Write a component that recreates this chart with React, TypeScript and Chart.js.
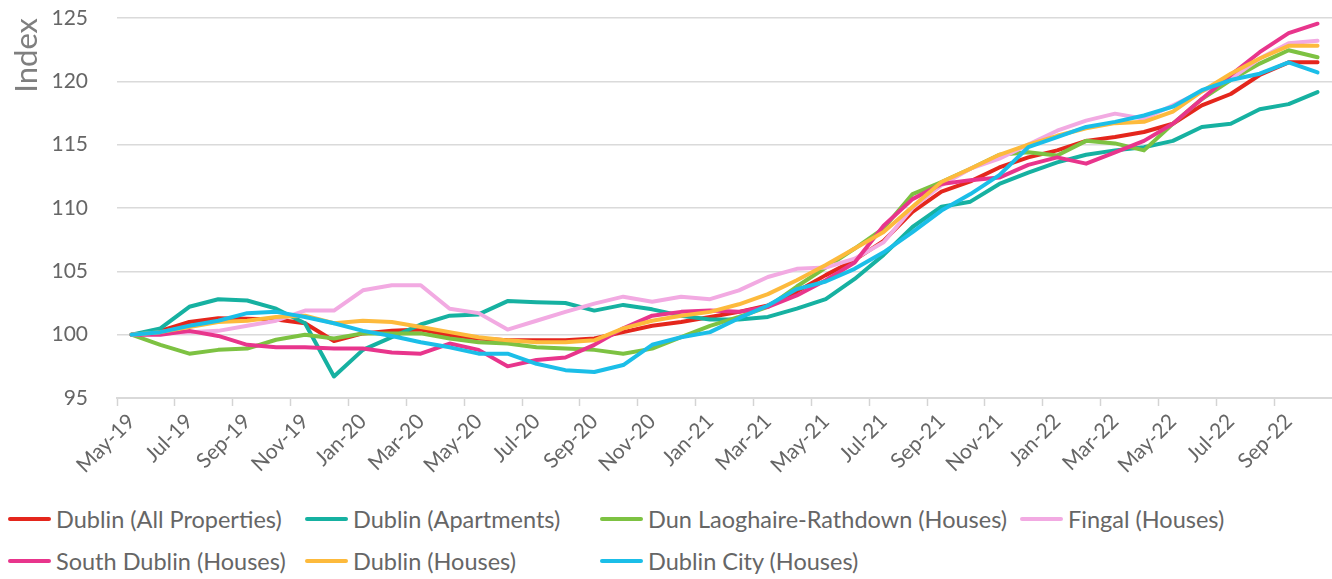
import React, { useEffect, useRef } from "react";
import { Chart, registerables } from "chart.js";

Chart.register(...registerables);

const months = [
  "May-19", "Jun-19", "Jul-19", "Aug-19", "Sep-19", "Oct-19", "Nov-19", "Dec-19",
  "Jan-20", "Feb-20", "Mar-20", "Apr-20", "May-20", "Jun-20", "Jul-20", "Aug-20",
  "Sep-20", "Oct-20", "Nov-20", "Dec-20", "Jan-21", "Feb-21", "Mar-21", "Apr-21",
  "May-21", "Jun-21", "Jul-21", "Aug-21", "Sep-21", "Oct-21", "Nov-21", "Dec-21",
  "Jan-22", "Feb-22", "Mar-22", "Apr-22", "May-22", "Jun-22", "Jul-22", "Aug-22",
  "Sep-22", "Oct-22",
];

const dublinAll = [
  100, 100.3, 101.0, 101.3, 101.25, 101.2, 100.9, 99.5, 100.1, 100.3, 100.4, 99.95,
  99.7, 99.55, 99.55, 99.55, 99.7, 100.2, 100.7, 101.0, 101.4, 101.8, 102.3, 103.4,
  104.7, 105.9, 107.4, 109.7, 111.3, 112.1, 113.2, 114.0, 114.55, 115.3, 115.6, 116.0,
  116.65, 118.1, 119.0, 120.5, 121.5, 121.5,
];
const dublinApartments = [
  100, 100.5, 102.2, 102.8, 102.7, 102.05, 100.9, 96.7, 98.8, 99.8, 100.8, 101.5,
  101.6, 102.65, 102.55, 102.5, 101.9, 102.35, 102.0, 101.5, 101.2, 101.2, 101.4, 102.05,
  102.8, 104.4, 106.3, 108.5, 110.1, 110.5, 111.9, 112.8, 113.6, 114.2, 114.55, 114.8,
  115.3, 116.4, 116.65, 117.8, 118.2, 119.15,
];
const dunLaoghaire = [
  100, 99.2, 98.5, 98.8, 98.9, 99.6, 100.0, 99.7, 100.1, 100.1, 100.1, 99.7,
  99.4, 99.3, 99.0, 98.9, 98.8, 98.5, 98.9, 99.8, 100.7, 101.4, 102.2, 103.8,
  105.3, 106.8, 108.4, 111.1, 112.05, 113.1, 114.2, 114.4, 114.15, 115.3, 115.1, 114.55,
  116.65, 118.6, 120.1, 121.4, 122.45, 121.9,
];
const fingal = [
  100, 100.1, 100.2, 100.3, 100.7, 101.1, 101.9, 101.9, 103.5, 103.9, 103.9, 102.05,
  101.7, 100.4, 101.1, 101.8, 102.45, 103.0, 102.6, 103.0, 102.8, 103.5, 104.55, 105.2,
  105.3, 106.0, 107.3, 110.0, 111.8, 113.1, 113.9, 115.0, 116.1, 116.9, 117.45, 117.05,
  118.1, 119.2, 120.2, 121.8, 123.0, 123.2,
];
const southDublin = [
  100, 100, 100.3, 99.9, 99.2, 99.0, 99.0, 98.9, 98.9, 98.6, 98.5, 99.3,
  98.8, 97.5, 98.0, 98.2, 99.2, 100.5, 101.5, 101.8, 101.9, 101.8, 102.2, 103.1,
  104.3, 105.7, 108.6, 110.7, 111.9, 112.2, 112.4, 113.4, 114.0, 113.5, 114.4, 115.3,
  116.65, 118.6, 120.5, 122.3, 123.8, 124.55,
];
const dublinHouses = [
  100, 100.2, 100.6, 101.0, 101.1, 101.4, 101.5, 100.9, 101.1, 101.0, 100.6, 100.2,
  99.8, 99.55, 99.4, 99.4, 99.55, 100.5, 101.1, 101.5, 101.8, 102.4, 103.2, 104.3,
  105.5, 106.8, 108.1, 110.1, 112.05, 113.1, 114.2, 115.0, 115.7, 116.3, 116.7, 116.8,
  117.6, 119.2, 120.6, 121.8, 122.8, 122.8,
];
const dublinCity = [
  100, 100.2, 100.7, 101.1, 101.7, 101.8, 101.4, 100.9, 100.3, 99.9, 99.4, 99.0,
  98.5, 98.5, 97.7, 97.2, 97.05, 97.6, 99.2, 99.8, 100.2, 101.3, 102.3, 103.6,
  104.2, 105.2, 106.5, 108.1, 109.8, 111.1, 112.6, 114.8, 115.6, 116.4, 116.8, 117.3,
  118.0, 119.3, 120.1, 120.6, 121.5, 120.7,
];

const seriesNames = [
  "Dublin (All Properties)",
  "Dublin (Apartments)",
  "Dun Laoghaire-Rathdown (Houses)",
  "Fingal (Houses)",
  "South Dublin (Houses)",
  "Dublin (Houses)",
  "Dublin City (Houses)",
];
const seriesColors = [
  "#E4261C", "#16B1A1", "#7DC242", "#F2AAE2", "#E8358C", "#FDBA3C", "#1BBEE8",
];
const seriesData = [
  dublinAll, dublinApartments, dunLaoghaire, fingal, southDublin, dublinHouses, dublinCity,
];

const yTicks = [95, 100, 105, 110, 115, 120, 125];

// legend grid (Excel-like columns)
const legendRows = [
  [0, 1, 2, 3],
  [4, 5, 6],
];
const legendColLefts = [8, 305, 600, 1020];

const FONT = "Lato, 'Noto Sans', sans-serif";

export default function App() {
  const canvasRef = useRef<HTMLCanvasElement | null>(null);

  useEffect(() => {
    const canvas = canvasRef.current;
    if (!canvas) return;
    const chart = new Chart(canvas, {
      type: "line",
      data: {
        labels: months,
        datasets: seriesData.map((d, i) => ({
          label: seriesNames[i],
          data: d,
          borderColor: seriesColors[i],
          backgroundColor: seriesColors[i],
          borderWidth: 4,
          pointRadius: 0,
          pointHoverRadius: 0,
          tension: 0,
          fill: false,
          borderCapStyle: "round" as const,
          borderJoinStyle: "round" as const,
          order: seriesData.length - i,
        })),
      },
      options: {
        animation: false,
        responsive: false,
        maintainAspectRatio: false,
        events: [],
        layout: { padding: { top: 18, right: 0, bottom: 0, left: 0 } },
        plugins: {
          legend: { display: false },
          tooltip: { enabled: false },
        },
        scales: {
          x: {
            type: "category",
            offset: true,
            grid: {
              offset: true,
              drawOnChartArea: false,
              drawTicks: true,
              tickLength: 8,
              tickWidth: 1.5,
              tickColor: (ctx: any) => (ctx.index % 2 === 0 && ctx.index < months.length ? "#d4d4d4" : "rgba(0,0,0,0)"),
            },
            border: { display: true, color: "#d9d9d9", width: 2 },
            ticks: {
              autoSkip: false,
              minRotation: 45,
              maxRotation: 45,
              padding: 3,
              color: "#666666",
              font: { family: FONT, size: 21 },
              callback: (_v: any, idx: number) => (idx % 2 === 0 ? months[idx] : ""),
            },
            afterFit: (scale: any) => {
              scale.height = 97;
              scale.paddingLeft = 0;
              scale.paddingRight = 0;
            },
          },
          y: {
            min: 95,
            max: 125,
            afterBuildTicks: (scale: any) => {
              scale.ticks = yTicks.map((v) => ({ value: v }));
            },
            grid: {
              drawTicks: false,
              color: "#dadada",
              lineWidth: 1.5,
            },
            border: { display: false },
            ticks: {
              padding: 29,
              color: "#666666",
              font: { family: FONT, size: 21 },
            },
            title: {
              display: true,
              text: "Index",
              align: "end",
              color: "#7f7f7f",
              font: { family: FONT, size: 31, weight: "normal" },
              padding: { top: 8, bottom: 0 },
            },
            afterFit: (scale: any) => {
              scale.width = 117;
              scale.paddingTop = 0;
              scale.paddingBottom = 0;
            },
          },
        },
      },
    });
    return () => chart.destroy();
  }, []);

  return (
    <div
      style={{
        position: "absolute",
        left: 0,
        top: 0,
        width: 1332,
        height: 579,
        background: "#ffffff",
        fontFamily: FONT,
      }}
    >
      <canvas
        ref={canvasRef}
        width={1332}
        height={495}
        style={{ position: "absolute", left: 0, top: 0, width: 1332, height: 495 }}
      />
      {legendRows.map((row, r) =>
        row.map((si, c) => (
          <div
            key={si}
            style={{
              position: "absolute",
              left: legendColLefts[c],
              top: 519 + r * 42 - 15,
              height: 30,
              display: "flex",
              alignItems: "center",
              whiteSpace: "nowrap",
            }}
          >
            <span
              style={{
                display: "inline-block",
                width: 43,
                height: 4,
                borderRadius: 2,
                background: seriesColors[si],
                marginRight: 5,
              }}
            />
            <span style={{ fontSize: 23.5, color: "#666666", lineHeight: "30px" }}>
              {seriesNames[si]}
            </span>
          </div>
        ))
      )}
    </div>
  );
}
